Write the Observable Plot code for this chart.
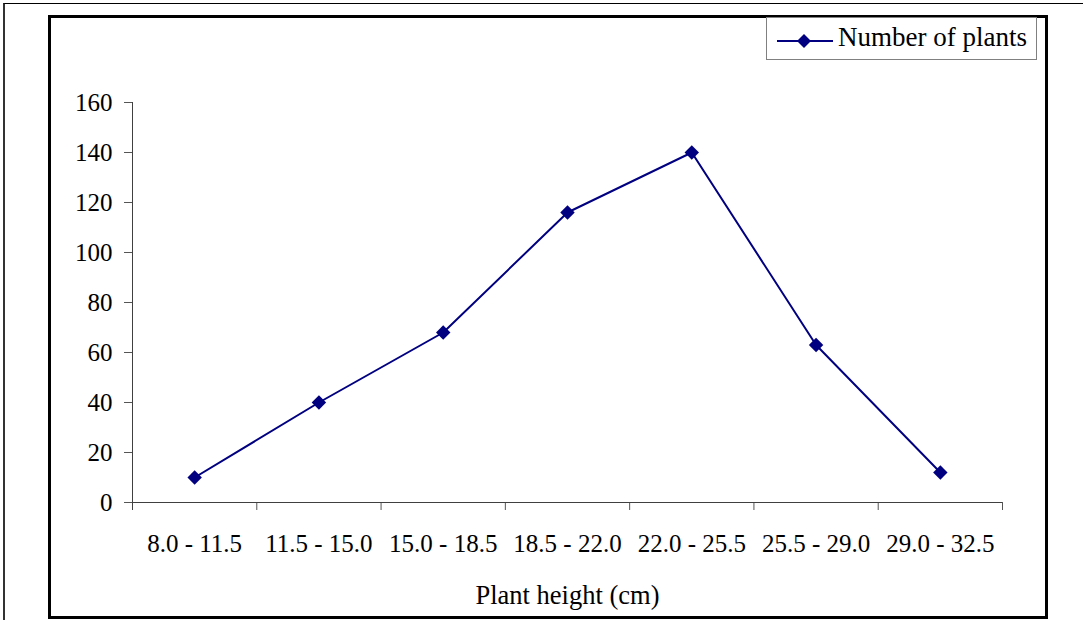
<!DOCTYPE html>
<html><head><meta charset="utf-8">
<script src="https://cdn.jsdelivr.net/npm/d3@7"></script>
<script src="https://cdn.jsdelivr.net/npm/@observablehq/plot@0.6"></script>
<style>
html,body{margin:0;padding:0;background:#fff;}
#wrap{position:relative;width:1083px;height:620px;overflow:hidden;font-family:"Liberation Serif","Times New Roman",serif;color:#000;}
#outer{position:absolute;left:3px;top:3px;width:1080px;height:620px;border-top:1.5px solid #000;border-left:2px solid #333;box-sizing:border-box;}
#frame{position:absolute;left:48px;top:15px;width:1000px;height:604px;border:3px solid #000;box-sizing:border-box;}
#chart{position:absolute;left:0;top:0;}
#legend{position:absolute;left:766px;top:17px;width:271px;height:43px;border:1.5px solid #808080;box-sizing:border-box;background:#fff;}
#legend svg{position:absolute;left:8px;top:12px;}
#legend span{position:absolute;left:71px;top:3px;font-size:27px;line-height:32px;white-space:nowrap;}
</style>
</head><body>
<div id="wrap">
  <div id="outer"></div>
  <div id="frame"></div>
  <div id="chart"></div>
  <div id="legend"></div>
</div>
<script>
const categories = ["8.0 - 11.5","11.5 - 15.0","15.0 - 18.5","18.5 - 22.0","22.0 - 25.5","25.5 - 29.0","29.0 - 32.5"];
const counts = [10, 40, 68, 116, 140, 63, 12];
const yTicks = [0, 20, 40, 60, 80, 100, 120, 140, 160];
const xLabel = "Plant height (cm)";
const seriesName = "Number of plants";

const W = 1083, H = 620, mL = 132, mR = 81, mT = 102, mB = 118;
const step = (W - mL - mR) / categories.length;
const navy = "#000080";
const data = categories.map((c, i) => ({range: c, count: counts[i]}));

const chart = Plot.plot({
  width: W, height: H,
  marginLeft: mL, marginRight: mR, marginTop: mT, marginBottom: mB,
  style: {fontFamily: "'Liberation Serif','Times New Roman',serif", fontSize: "25px", color: "#000", background: "transparent", overflow: "visible"},
  x: {type: "band", domain: categories, padding: 0, round: false},
  y: {domain: [0, 160], nice: false},
  marks: [
    Plot.axisX({tickSize: 0, tickPadding: 32, label: null, fill: "#000"}),
    Plot.axisX({tickSize: 0, tickFormat: () => "", label: xLabel, labelAnchor: "center", labelOffset: 101, fontSize: 26.5, fill: "#000"}),
    Plot.axisX({ticks: categories, tickSize: 8, dx: step / 2, tickFormat: () => "", label: null, stroke: "#555"}),
    Plot.axisY({ticks: yTicks, tickSize: 8, tickPadding: 12, label: null, stroke: "#555", fill: "#000"}),
    Plot.ruleY([0], {stroke: "#404040"}),
    Plot.ruleX([categories[0]], {dx: -step / 2, insetBottom: -8, stroke: "#404040"}),
    Plot.line(data, {x: "range", y: "count", stroke: navy, strokeWidth: 2}),
    Plot.dot(data, {x: "range", y: "count", symbol: "diamond2", r: 6.5, fill: navy, stroke: "none"})
  ]
});
document.getElementById("chart").appendChild(chart);

const legend = document.getElementById("legend");
legend.innerHTML = `<svg width="60" height="20"><line x1="2" y1="11" x2="58" y2="11" stroke="${navy}" stroke-width="2"/><path d="M29,4 L36,11 L29,18 L22,11 Z" fill="${navy}"/></svg><span>${seriesName}</span>`;
</script>
</body></html>
